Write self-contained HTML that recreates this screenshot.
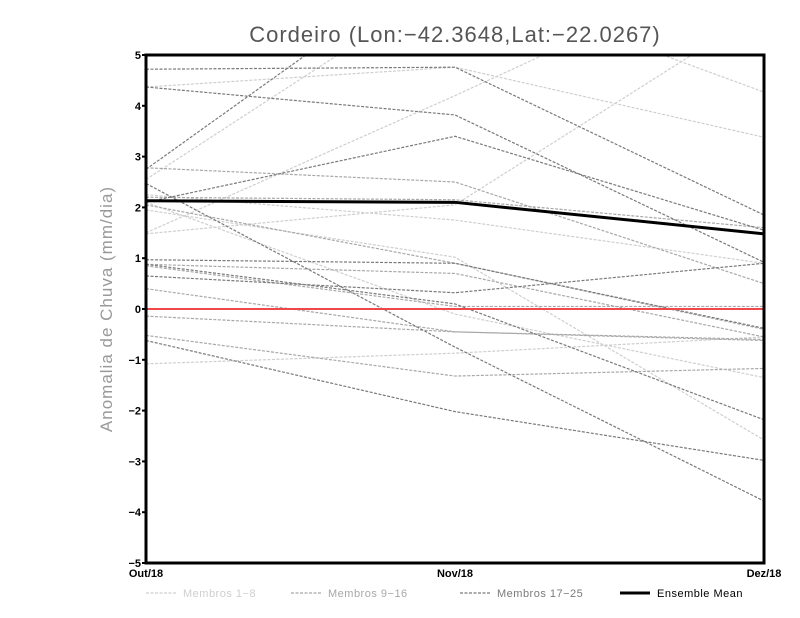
<!DOCTYPE html>
<html><head><meta charset="utf-8"><style>
html,body{margin:0;padding:0;background:#fff;}
svg{display:block;font-family:"Liberation Sans",sans-serif;}
</style></head><body>
<svg id="chart" width="800" height="618" viewBox="0 0 800 618" xmlns="http://www.w3.org/2000/svg">
<defs><clipPath id="pc"><rect x="146" y="55" width="618" height="508"/></clipPath></defs>
<text x="455" y="42" text-anchor="middle" font-size="22" fill="#555" letter-spacing="1">Cordeiro (Lon:−42.3648,Lat:−22.0267)</text>
<text transform="translate(112,309) rotate(-90)" text-anchor="middle" font-size="17" fill="#999" letter-spacing="1">Anomalia de Chuva (mm/dia)</text>
<g id="series" clip-path="url(#pc)"></g>
<g id="axes"></g>
<g id="legend"></g>
</svg>
<script>
const categories = ["Out/18","Nov/18","Dez/18"];
const yTicks = [5,4,3,2,1,0,-1,-2,-3,-4,-5];
const membros1to8 = [
  [4.37,4.76,3.38],
  [2.55,6.5,4.27],
  [1.48,2.05,5.9],
  [1.5,4.2,7.0],
  [1.95,1.02,-2.58],
  [-1.08,-0.87,-0.55],
  [2.1,-0.1,-1.35],
  [2.25,1.75,0.9]
];
const membros9to16 = [
  [2.78,2.5,0.5],
  [2.2,2.15,1.6],
  [0.88,0.7,-0.55],
  [0.4,-0.45,-0.62],
  [-0.14,-0.45,-0.6],
  [-0.52,-1.32,-1.17],
  [2.05,0.9,-0.4],
  [0.85,0.05,0.05]
];
const membros17to25 = [
  [2.75,7.1,6.0],
  [4.72,4.76,1.85],
  [4.37,3.82,0.92],
  [2.1,3.4,1.55],
  [2.47,-0.75,-3.78],
  [0.97,0.9,-0.38],
  [0.65,0.32,0.9],
  [-0.62,-2.02,-2.98],
  [0.88,0.1,-2.18]
];
const ensembleMean = [2.13,2.1,1.48];

const NS="http://www.w3.org/2000/svg";
const X0=146,X1=764,Y0=55,Y1=563;
function xPos(i){return X0+(X1-X0)*i/(categories.length-1);}
function yPos(v){return Y1-(v+5)/10*(Y1-Y0);}
function mk(tag,attrs,parent){const e=document.createElementNS(NS,tag);for(const k in attrs)e.setAttribute(k,attrs[k]);parent.appendChild(e);return e;}
const sg=document.getElementById('series');
function pts(arr){return arr.map((v,i)=>xPos(i)+','+yPos(v)).join(' ');}
function drawGroup(data,color,name){
  data.forEach((s,j)=>{
    const p=mk('polyline',{points:pts(s),fill:'none',stroke:color,'stroke-width':1.2,'stroke-dasharray':'3,1.5'},sg);
    
    
  });
}
drawGroup(membros1to8,'#cfcfcf','membro-light');
drawGroup(membros9to16,'#a8a8a8','membro-mid');
drawGroup(membros17to25,'#7a7a7a','membro-dark');
const zl=mk('line',{x1:X0,x2:X1,y1:yPos(0),y2:yPos(0),stroke:'#f04848','stroke-width':2},sg);


const em=mk('polyline',{points:pts(ensembleMean),fill:'none',stroke:'#000','stroke-width':3},sg);



const ax=document.getElementById('axes');
const fr=mk('rect',{x:X0,y:Y0,width:X1-X0,height:Y1-Y0,fill:'none',stroke:'#000','stroke-width':3},ax);


yTicks.forEach(v=>{
  const t=mk('text',{x:X0-5,y:yPos(v)+4,'text-anchor':'end','font-size':11,'font-weight':'bold',fill:'#000'},ax);
  t.textContent=String(v).replace('-','−');
  
  
  const tk=mk('line',{x1:X0-4,x2:X0,y1:yPos(v),y2:yPos(v),stroke:'#000','stroke-width':2},ax);
  
  
});
categories.forEach((c,i)=>{
  const t=mk('text',{x:xPos(i),y:577,'text-anchor':'middle','font-size':11,'font-weight':'bold',fill:'#000'},ax);
  t.textContent=c;
  
  
});
const lg=document.getElementById('legend');
const legendItems=[["Membros 1−8","#cfcfcf",146,"3,1.5",1.2],["Membros 9−16","#a8a8a8",291,"3,1.5",1.2],["Membros 17−25","#7a7a7a",460,"3,1.5",1.2],["Ensemble Mean","#000",620,"",3]];
legendItems.forEach(it=>{
  const g=mk('g',{},lg);
  
  
  const l=mk('line',{x1:it[2],x2:it[2]+30,y1:593,y2:593,stroke:it[1],'stroke-width':it[4]},g);
  if(it[3])l.setAttribute('stroke-dasharray',it[3]);
  const t=mk('text',{x:it[2]+37,y:597,'font-size':11,fill:it[0]==="Ensemble Mean"?'#000':it[1],'letter-spacing':'0.5'},g);
  t.textContent=it[0];
});
</script>
</body></html>
